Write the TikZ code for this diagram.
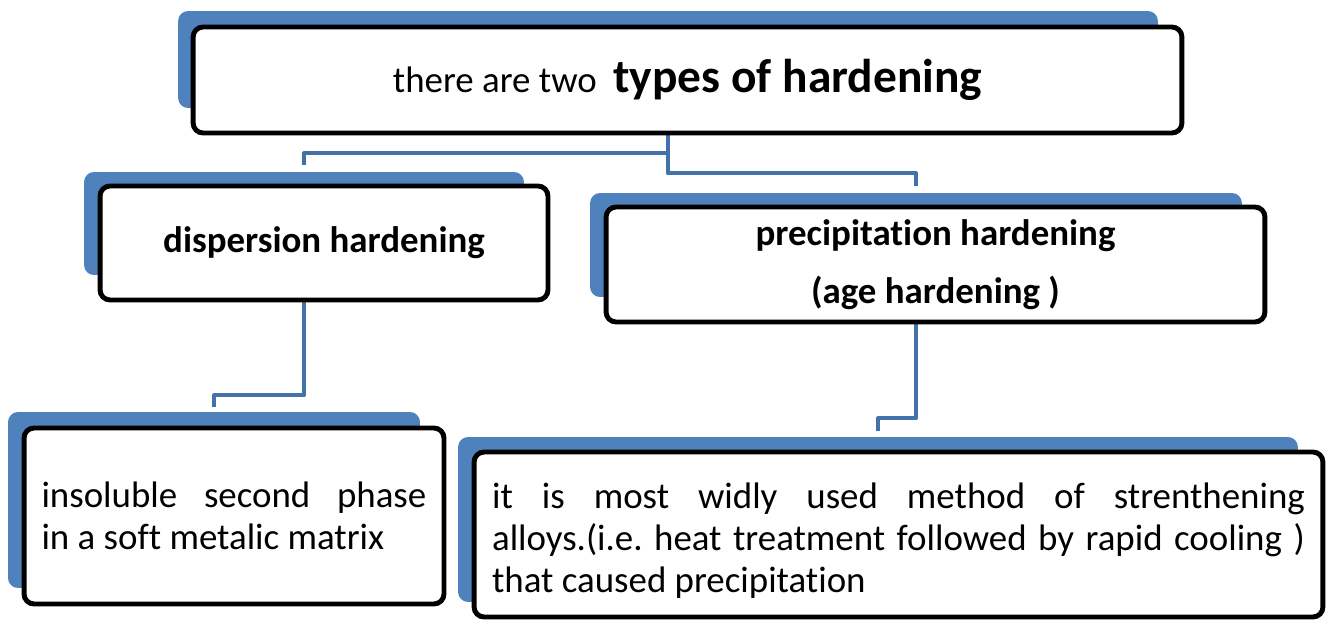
\documentclass[tikz,border=0pt]{standalone}
\usepackage{fontspec}
\setmainfont[Ligatures=NoCommon]{Carlito}
\usetikzlibrary{backgrounds}
\definecolor{shadowblue}{HTML}{4F81BD}
\definecolor{linkblue}{HTML}{4372AA}
\tolerance=10000
\hbadness=10000
\hyphenpenalty=10000
\frenchspacing
\begin{document}
\begin{tikzpicture}[x=0.02cm, y=-0.02cm,
	backbox/.style={fill=shadowblue, rounded corners=0.2cm, inner sep=0pt},
	box/.style={draw=black, line width=2.8pt, fill=white, rounded corners=0.2cm, inner sep=0pt, font=\fontsize{21}{23.8}\selectfont},
	link/.style={draw=linkblue, line width=2.3pt, line join=round}]
	\useasboundingbox (0,0) rectangle (1328,619);
	\node[backbox, minimum width=19.6cm, minimum height=1.94cm] (topsh) at (668,59.5) {};
	\node[backbox, minimum width=8.8cm, minimum height=2.06cm] (dispsh) at (304,223.5) {};
	\node[backbox, minimum width=13.04cm, minimum height=2.08cm] (precsh) at (916,245) {};
	\node[backbox, minimum width=8.24cm, minimum height=3.52cm] (insolsh) at (214,500) {};
	\node[backbox, minimum width=16.8cm, minimum height=3.3cm] (methsh) at (878,519.5) {};
	\node[box, minimum width=19.78cm, minimum height=2.12cm] (top) at (687.5,80) {there are two\ \ {\fontsize{27}{30}\selectfont\bfseries types of hardening}};
	\node[box, minimum width=8.96cm, minimum height=2.28cm] (disp) at (324,243) {\bfseries dispersion hardening};
	\node[box, minimum width=13.18cm, minimum height=2.3cm, align=center, font=\fontsize{21}{23.8}\selectfont\bfseries] (prec) at (935.5,264.5) {precipitation hardening\\[9pt] (age hardening )};
	\node[box, minimum width=8.4cm, minimum height=3.52cm, text width=7.7cm, align=justify] (insol) at (234,516) {insoluble second phase\linebreak in a soft metalic matrix};
	\node[box, minimum width=16.98cm, minimum height=3.3cm, text width=16.26cm, align=justify] (meth) at (898.5,534.5) {\rule{0pt}{0.76cm}it is most widly used method of strenthening\linebreak alloys.(i.e. heat treatment followed by rapid cooling )\linebreak that caused precipitation};
	\begin{pgfonlayer}{background}
		\draw[link] (topsh.south) -- ++(0,45) -| ([yshift=0.14cm]dispsh.north);
		\draw[link] (topsh.south) -- ++(0,65) -| ([yshift=0.14cm]precsh.north);
		\draw[link] (dispsh.south) -- ++(0,120) -| ([yshift=0.1cm]insolsh.north);
		\draw[link] (precsh.south) -- ++(0,121) -| ([yshift=0.12cm]methsh.north);
	\end{pgfonlayer}
\end{tikzpicture}
\end{document}
